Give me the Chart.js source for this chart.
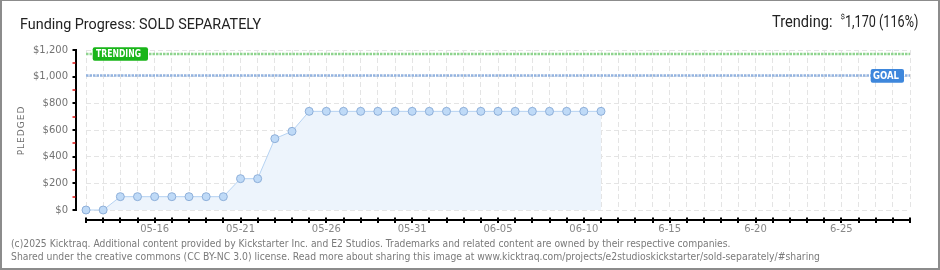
<!DOCTYPE html>
<html><head><meta charset="utf-8">
<script src="https://cdn.jsdelivr.net/npm/chart.js@4/dist/chart.umd.min.js"></script>
<style>
html,body{margin:0;padding:0;background:#fff;}
#wrap{position:relative;width:940px;height:270px;overflow:hidden;background:#fff;}
#c{position:absolute;left:0;top:0;}
.t{position:absolute;white-space:nowrap;transform-origin:0 0;}
#frame{position:absolute;left:0;top:0;width:940px;height:270px;box-sizing:border-box;border:2px solid #8c8c8c;border-top-width:1px;pointer-events:none;}
#title{left:20px;top:17px;font:400 15.5px/15.5px Roboto,sans-serif;color:#222;}
#tr1{left:772px;top:13px;font:400 17px/17px Roboto,sans-serif;color:#222;}
#tr2{left:840.5px;top:12.5px;font:400 8px/8px Roboto,sans-serif;color:#222;}
#tr3{left:845px;top:13px;font:400 17px/17px Roboto,sans-serif;color:#222;}
.foot{left:11px;font:400 10px/10px "DejaVu Sans",sans-serif;color:#7a7a7a;}
#f1{top:239px;}
#f2{top:251.5px;}
#ylab{left:22px;top:130px;font:400 9px/9px "DejaVu Sans",sans-serif;color:#6e6e6e;letter-spacing:1px;transform-origin:50% 50%;}
</style></head>
<body><div id="wrap">
<canvas id="c" width="940" height="270"></canvas>
<div class="t" id="title">Funding Progress: SOLD SEPARATELY</div>
<div class="t" id="tr1">Trending:</div>
<div class="t" id="tr2">$</div>
<div class="t" id="tr3">1,170 (116%)</div>
<div class="t foot" id="f1">(c)2025 Kicktraq. Additional content provided by Kickstarter Inc. and E2 Studios. Trademarks and related content are owned by their respective companies.</div>
<div class="t foot" id="f2">Shared under the creative commons (CC BY-NC 3.0) license. Read more about sharing this image at www.kicktraq.com/projects/e2studioskickstarter/sold-separately/#sharing</div>
<div class="t" id="ylab">PLEDGED</div>
<div id="frame"></div>
</div>
<script>
// ---- data ----
const days = [
 '05-12','05-13','05-14','05-15','05-16','05-17','05-18','05-19','05-20','05-21',
 '05-22','05-23','05-24','05-25','05-26','05-27','05-28','05-29','05-30','05-31',
 '06-01','06-02','06-03','06-04','06-05','06-06','06-07','06-08','06-09','06-10','06-11',
 '6-12','6-13','6-14','6-15','6-16','6-17','6-18','6-19','6-20','6-21','6-22','6-23',
 '6-24','6-25','6-26','6-27','6-28','6-29'
];
const pledged = [
 0,0,100,100,100,100,100,100,100,235,
 235,535,590,740,740,740,740,740,740,740,
 740,740,740,740,740,740,740,740,740,740,740
];
const yTickValues = [0,200,400,600,800,1000,1200];
const yTickLabels = ['$0','$200','$400','$600','$800','$1,000','$1,200'];
const GOAL = 1008;
const TRENDING = 1170;
const Y_MIN = 0, Y_MAX = 1200;

// ---- text fitting ----
function fit(id, w){
  const el = document.getElementById(id);
  const r = el.getBoundingClientRect().width;
  el.style.transform = 'scaleX(' + (w / r) + ')';
}
fit('title', 241);
fit('tr1', 60.5);
fit('tr3', 73.3);
fit('f1', 719.5);
fit('f2', 809);
(function(){
  const el = document.getElementById('ylab');
  const r = el.getBoundingClientRect();
  el.style.left = (22 - r.width/2) + 'px';
  el.style.top = (130 - r.height/2) + 'px';
  el.style.transform = 'rotate(-90deg)';
})();

function roundRect(ctx, x, y, w, h, r){
  ctx.beginPath();
  ctx.moveTo(x+r, y); ctx.lineTo(x+w-r, y); ctx.quadraticCurveTo(x+w, y, x+w, y+r);
  ctx.lineTo(x+w, y+h-r); ctx.quadraticCurveTo(x+w, y+h, x+w-r, y+h);
  ctx.lineTo(x+r, y+h); ctx.quadraticCurveTo(x, y+h, x, y+h-r);
  ctx.lineTo(x, y+r); ctx.quadraticCurveTo(x, y, x+r, y);
  ctx.closePath();
}

const decor = {
  id: 'decor',
  beforeDatasetsDraw(chart){
    const ctx = chart.ctx, xs = chart.scales.x, ys = chart.scales.y;
    const l = xs.getPixelForValue(0), r = xs.getPixelForValue(days.length - 1);
    ctx.save();
    ctx.lineWidth = 2.5;
    ctx.setLineDash([2.5, 1]);
    ctx.strokeStyle = '#8fd48f';
    const ty = ys.getPixelForValue(TRENDING);
    ctx.beginPath(); ctx.moveTo(l, ty); ctx.lineTo(r, ty); ctx.stroke();
    ctx.strokeStyle = '#93b3df';
    const gy = ys.getPixelForValue(GOAL);
    ctx.beginPath(); ctx.moveTo(l, gy); ctx.lineTo(r, gy); ctx.stroke();
    ctx.restore();
  },
  afterDraw(chart){
    const ctx = chart.ctx, xs = chart.scales.x, ys = chart.scales.y;
    const area = chart.chartArea;
    const y0 = ys.getPixelForValue(Y_MIN), yTop = ys.getPixelForValue(Y_MAX);
    const axX = area.left - 10;
    const axY = y0 + 10;
    ctx.save();
    ctx.setLineDash([]);
    // y axis
    ctx.strokeStyle = '#000'; ctx.lineWidth = 2;
    ctx.beginPath(); ctx.moveTo(axX, yTop); ctx.lineTo(axX, y0); ctx.stroke();
    for (let v = Y_MIN; v <= Y_MAX; v += 100){
      const py = Math.round(ys.getPixelForValue(v));
      if (v % 200 === 0){
        ctx.strokeStyle = '#000'; ctx.lineWidth = 2;
        ctx.beginPath(); ctx.moveTo(axX - 3.5, py); ctx.lineTo(axX + 1, py); ctx.stroke();
      } else {
        ctx.strokeStyle = '#e21010'; ctx.lineWidth = 1.5;
        ctx.beginPath(); ctx.moveTo(axX - 3.5, py); ctx.lineTo(axX - 0.5, py); ctx.stroke();
      }
    }
    // x axis
    ctx.strokeStyle = '#000'; ctx.lineWidth = 2;
    const xl = xs.getPixelForValue(0), xr = xs.getPixelForValue(days.length - 1);
    ctx.beginPath(); ctx.moveTo(xl - 1, axY); ctx.lineTo(xr + 1, axY); ctx.stroke();
    for (let i = 0; i < days.length; i++){
      const px = Math.round(xs.getPixelForValue(i));
      ctx.beginPath(); ctx.moveTo(px, axY - 2.5); ctx.lineTo(px, axY + 3); ctx.stroke();
    }
    // badges
    const ty = ys.getPixelForValue(TRENDING);
    ctx.fillStyle = '#19b519';
    roundRect(ctx, area.left + 6.7, ty - 6.7, 55.3, 13.4, 2); ctx.fill();
    ctx.fillStyle = '#fff';
    ctx.font = 'bold 10px "DejaVu Sans"';
    ctx.textBaseline = 'middle'; ctx.textAlign = 'left';
    ctx.fillText('TRENDING', area.left + 10, ty + 0.5, 45);
    const gy = ys.getPixelForValue(GOAL);
    ctx.fillStyle = '#3e87dc';
    roundRect(ctx, area.right - 39.3, gy - 6.5, 33.3, 13.6, 2); ctx.fill();
    ctx.fillStyle = '#fff';
    ctx.fillText('GOAL', area.right - 37, gy + 0.8, 26);
    ctx.restore();
  }
};

new Chart(document.getElementById('c'), {
  type: 'line',
  data: {
    labels: days,
    datasets: [{
      data: pledged,
      borderColor: '#b5d2f2',
      borderWidth: 1,
      backgroundColor: '#edf4fc',
      fill: 'origin',
      tension: 0,
      pointRadius: 4,
      pointBackgroundColor: '#bfdaf7',
      pointBorderColor: '#8eafd9',
      pointBorderWidth: 1,
      clip: false
    }]
  },
  options: {
    responsive: false,
    animation: false,
    devicePixelRatio: 1,
    layout: { padding: { top: 50, right: 30, left: 0, bottom: 0 } },
    plugins: { legend: { display: false }, tooltip: { enabled: false } },
    scales: {
      x: {
        type: 'category',
        grid: { color: '#e4e4e4', drawTicks: false, lineWidth: 1 },
        border: { display: false, dash: [5, 3] },
        ticks: {
          autoSkip: false, maxRotation: 0, minRotation: 0, padding: 13,
          color: '#888', font: { family: 'DejaVu Sans', size: 10 },
          callback: (v, i) => (i % 5 === 4 ? days[i] : '')
        },
        afterFit: s => { s.height = 60; }
      },
      y: {
        min: Y_MIN, max: Y_MAX,
        afterBuildTicks: s => { s.ticks = yTickValues.map(v => ({ value: v })); },
        grid: { color: '#e4e4e4', drawTicks: false, lineWidth: 1 },
        border: { display: false, dash: [5, 3] },
        ticks: {
          padding: 18, color: '#737373', font: { family: 'DejaVu Sans', size: 10 },
          callback: v => yTickLabels[yTickValues.indexOf(v)]
        },
        afterFit: s => { s.width = 86; }
      }
    }
  },
  plugins: [decor]
});
</script>
</body></html>
